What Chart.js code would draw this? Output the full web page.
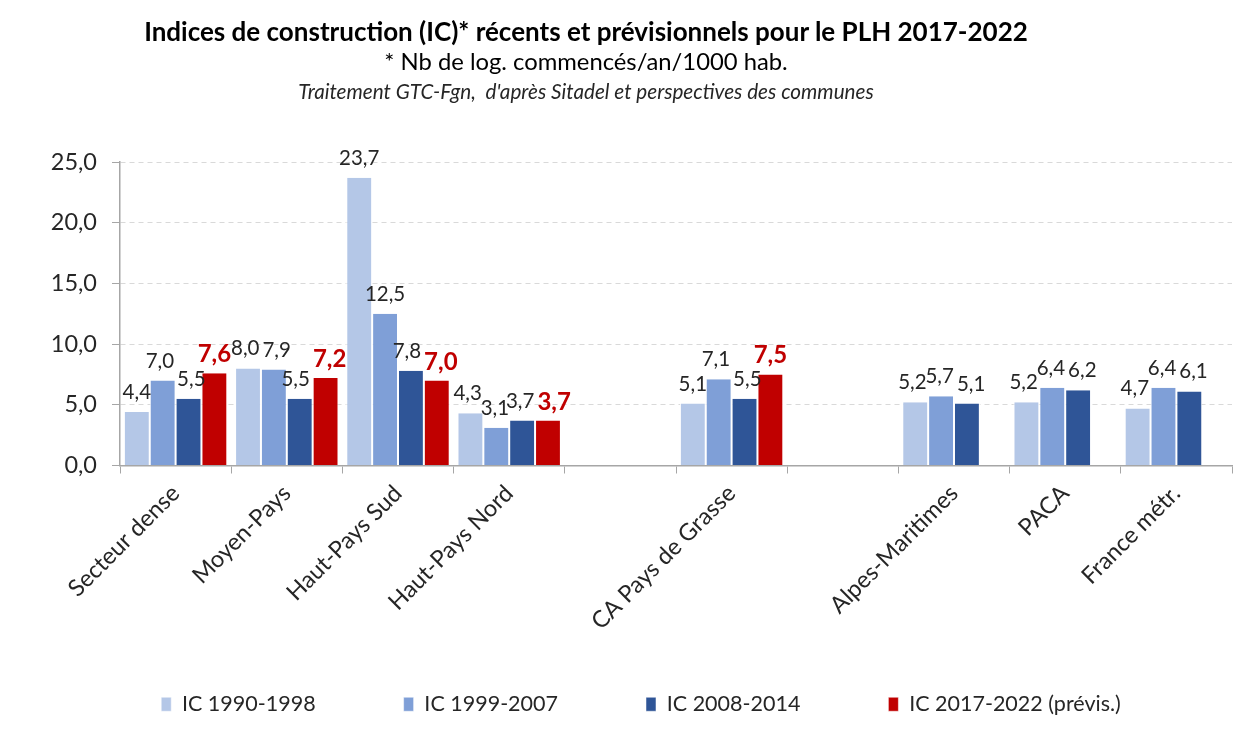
<!DOCTYPE html>
<html>
<head>
<meta charset="utf-8">
<script src="https://cdn.jsdelivr.net/npm/chart.js@4"></script>
<style>
  html, body { margin: 0; padding: 0; background: #fff; }
  .wrap { position: relative; width: 1259px; height: 733px; font-family: Lato, "Noto Sans", sans-serif; color: #000; }
  .wrap canvas { position: absolute; left: 0; top: 0; }
  .t { position: absolute; left: 0; width: 1172px; text-align: center; white-space: nowrap; line-height: 1.2; }
  #t1 { top: 16px; font-size: 26px; font-weight: bold; }
  #t2 { top: 47px; font-size: 23.8px; }
  #t3 { top: 79px; font-size: 20.7px; font-style: italic; color: #262626; }
</style>
</head>
<body>
<div class="wrap">
  <canvas id="chart" width="1259" height="733"></canvas>
  <div class="t" id="t1">Indices de construction (IC)* récents et prévisionnels pour le PLH 2017-2022</div>
  <div class="t" id="t2">* Nb de log. commencés/an/1000 hab.</div>
  <div class="t" id="t3">Traitement GTC-Fgn,&nbsp; d'après Sitadel et perspectives des communes</div>
</div>
<script>
const categories = ["Secteur dense", "Moyen-Pays", "Haut-Pays Sud", "Haut-Pays Nord", "", "CA Pays de Grasse", "", "Alpes-Maritimes", "PACA", "France métr."];
const ic1990 = [4.4, 8.0, 23.7, 4.3, null, 5.1, null, 5.2, 5.2, 4.7];
const ic1999 = [7.0, 7.9, 12.5, 3.1, null, 7.1, null, 5.7, 6.4, 6.4];
const ic2008 = [5.5, 5.5, 7.8, 3.7, null, 5.5, null, 5.1, 6.2, 6.1];
const ic2017 = [7.6, 7.2, 7.0, 3.7, null, 7.5, null, null, null, null];
const seriesNames = ["IC 1990-1998", "IC 1999-2007", "IC 2008-2014", "IC 2017-2022 (prévis.)"];

const FONT = "Lato, 'Noto Sans', sans-serif";
const fmt = (v) => v.toFixed(1).replace(".", ",");

// valeurs au-dessus des barres, écartées si elles se chevauchent
const barLabels = {
    id: "barLabels",
    afterLayout(chart) {
        // ne pas couper les étiquettes inclinées de l'axe x
        chart.scales.x._computeLabelArea = () => null;
    },
    afterDatasetsDraw(chart) {
        const ctx = chart.ctx;
        const fontOf = (di) => (di === 3 ? "bold 24px " : "20.5px ") + FONT;
        ctx.save();
        ctx.textAlign = "center";
        ctx.textBaseline = "alphabetic";
        chart.data.labels.forEach((_, i) => {
            const group = [];
            chart.data.datasets.forEach((ds, di) => {
                const v = ds.data[i];
                if (v == null) return;
                const bar = chart.getDatasetMeta(di).data[i];
                ctx.font = fontOf(di);
                const text = fmt(v);
                group.push({ di, text, x: bar.x, y: bar.y - (di === 3 ? 11 : 13), w: ctx.measureText(text).width });
            });
            for (let k = 1; k < group.length; k++) {
                const a = group[k - 1], b = group[k];
                const overlap = (a.x + a.w / 2 + 3) - (b.x - b.w / 2);
                if (overlap > 0 && Math.abs(a.y - b.y) < 22) {
                    a.x -= overlap / 2;
                    b.x += overlap / 2;
                }
            }
            group.forEach((g) => {
                ctx.font = fontOf(g.di);
                ctx.fillStyle = g.di === 3 ? "#C00000" : "#262626";
                ctx.fillText(g.text, g.x, g.y);
            });
        });
        ctx.restore();
    }
};

new Chart(document.getElementById("chart"), {
    type: "bar",
    data: {
        labels: categories,
        datasets: [
            { label: seriesNames[0], data: ic1990, backgroundColor: "#B4C7E7" },
            { label: seriesNames[1], data: ic1999, backgroundColor: "#7F9FD7" },
            { label: seriesNames[2], data: ic2008, backgroundColor: "#2F5597" },
            { label: seriesNames[3], data: ic2017, backgroundColor: "#C00000" }
        ].map((d) => ({ ...d, borderColor: "#fff", borderWidth: { left: 1, right: 1 }, categoryPercentage: 0.93, barPercentage: 1 }))
    },
    options: {
        responsive: false,
        animation: false,
        layout: { padding: { top: 162, left: 50, right: 27, bottom: 8 } },
        plugins: {
            title: { display: false },
            tooltip: { enabled: false },
            legend: {
                position: "bottom",
                labels: {
                    font: { family: FONT, size: 21.5 },
                    color: "#262626",
                    boxWidth: 10,
                    boxHeight: 14,
                    padding: 88
                }
            }
        },
        scales: {
            x: {
                offset: true,
                afterFit: (s) => { s.height = 140; },
                grid: { display: true, drawOnChartArea: false, offset: true, tickLength: 8, color: "#A6A6A6" },
                border: { color: "#A6A6A6", width: 1.5 },
                ticks: { font: { family: FONT, size: 23.5 }, color: "#262626", minRotation: 45, maxRotation: 45, autoSkip: false, padding: 6 }
            },
            y: {
                min: 0,
                max: 25,
                afterFit: (s) => { s.width = 70; },
                ticks: { stepSize: 5, font: { family: FONT, size: 23.5 }, color: "#262626", padding: 15, callback: (v) => fmt(v) },
                grid: { color: "#D9D9D9", tickLength: 8, tickColor: "#A6A6A6", tickBorderDash: [] },
                border: { color: "#A6A6A6", width: 1.5, dash: [5, 4] }
            }
        }
    },
    plugins: [barLabels]
});
</script>
</body>
</html>
